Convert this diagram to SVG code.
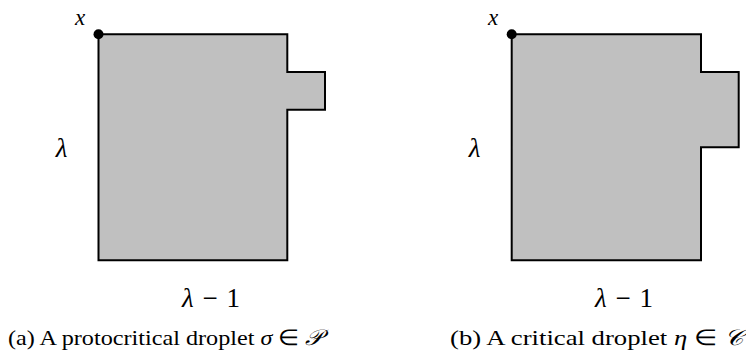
<svg xmlns="http://www.w3.org/2000/svg" width="746" height="360" viewBox="0 0 746 360">
<style>
.shape{fill:#c0c0c0;stroke:#000;stroke-width:2;stroke-linejoin:miter}
.t{font-family:'Liberation Serif','Times New Roman',serif;fill:#000}
.m{font-style:italic}
.lbl{text-anchor:middle;font-size:27px}
.xl{font-size:23px}
.cap{font-size:22px}
</style>
<rect width="746" height="360" fill="#fff"/>
<g id="droplet-a">
<path class="shape" d="M98.5,34.3 H287.3 V72 H325 V109.8 H287.3 V260.3 H98.5 Z"/>
<circle cx="98.5" cy="34.3" r="5" fill="#000"/>
<text class="t m lbl xl" x="80" y="25">x</text>
<text class="t m lbl" x="61.5" y="157">λ</text>
<text class="t lbl" x="211" y="307" textLength="58" lengthAdjust="spacing"><tspan class="m">λ</tspan> − 1</text>
<text class="t cap" x="8" y="345" textLength="315" lengthAdjust="spacingAndGlyphs">(a) A protocritical droplet <tspan class="m">σ</tspan> ∈ <tspan class="m">𝒫</tspan></text>
</g>
<g id="droplet-b">
<path class="shape" d="M511.7,34.3 H701 V72 H738.7 V147.3 H701 V260.3 H511.7 Z"/>
<circle cx="511.7" cy="34.3" r="5" fill="#000"/>
<text class="t m lbl xl" x="493" y="25">x</text>
<text class="t m lbl" x="474.5" y="157">λ</text>
<text class="t lbl" x="624" y="307" textLength="58" lengthAdjust="spacing"><tspan class="m">λ</tspan> − 1</text>
<text class="t cap" x="450" y="345" textLength="293" lengthAdjust="spacingAndGlyphs">(b) A critical droplet <tspan class="m">η</tspan> ∈ <tspan class="m">𝒞</tspan></text>
</g>
<g id="connectors"></g>
</svg>
